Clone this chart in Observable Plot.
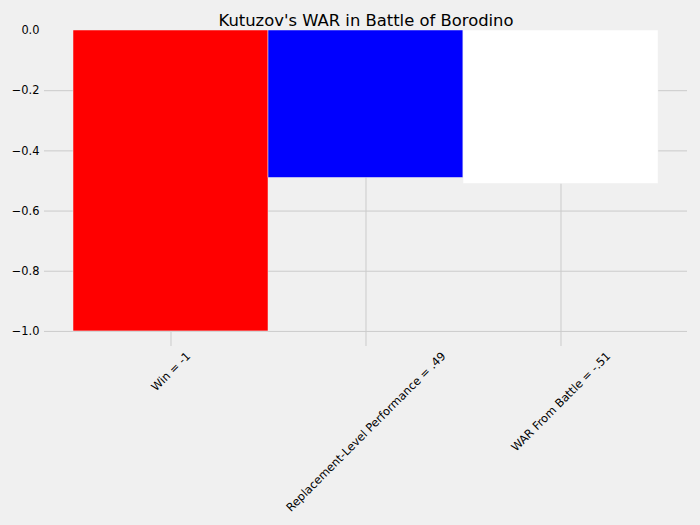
<!DOCTYPE html>
<html>
<head>
<meta charset="utf-8">
<script src="https://cdn.jsdelivr.net/npm/d3@7"></script>
<script src="https://cdn.jsdelivr.net/npm/@observablehq/plot@0.6"></script>
<style>
  html, body { margin: 0; padding: 0; background: #f0f0f0; }
  #chart { width: 700px; height: 525px; }
</style>
</head>
<body>
<div id="chart"></div>
<script>
const title = "Kutuzov's WAR in Battle of Borodino";
const categories = ["Win = -1", "Replacement-Level Performance = .49", "WAR From Battle = -.51"];
const values = [-1, -0.49, -0.51];
const barColors = ["#ff0000", "#0000ff", "#ffffff"];
const yTicks = [0, -0.2, -0.4, -0.6, -0.8, -1.0];

const data = categories.map((c, i) => ({category: c, value: values[i]}));

const labelFont = 11.4;
const ctx = document.createElement("canvas").getContext("2d");
ctx.font = `${labelFont}px 'DejaVu Sans'`;

const xLabelMarks = categories.map(c => {
  const L = ctx.measureText(c).width;
  const h = labelFont * 1.17;
  const half = (L + h) * Math.SQRT1_2 / 2;
  return Plot.text([c], {
    x: d => d, text: d => d,
    frameAnchor: "bottom", rotate: -45,
    textAnchor: "middle", lineAnchor: "middle",
    dy: 3 + half, fontSize: labelFont, fill: "#000"
  });
});

const chart = Plot.plot({
  width: 700,
  height: 525,
  marginTop: 30,
  marginBottom: 179,
  marginLeft: 44,
  marginRight: 13,
  style: {background: "#f0f0f0", fontFamily: "'DejaVu Sans', sans-serif", color: "#000"},
  x: {type: "band", domain: categories, paddingInner: 0, paddingOuter: 0.146, axis: null},
  y: {domain: [-1.05, 0], axis: null},
  color: {domain: categories, range: barColors},
  marks: [
    Plot.gridY(yTicks.filter(t => t !== 0), {stroke: "#cbcbcb", strokeOpacity: 1, strokeWidth: 1}),
    Plot.gridX(categories, {stroke: "#cbcbcb", strokeOpacity: 1, strokeWidth: 1}),
    Plot.barY(data, {x: "category", y: "value", fill: "category", stroke: "#f0f0f0", strokeWidth: 0.5, inset: 0}),
    Plot.axisY(yTicks, {tickSize: 0, tickPadding: 5, tickFormat: d3.format(".1f"), fontSize: labelFont, fill: "#000", label: null}),
    ...xLabelMarks,
    Plot.text([title], {frameAnchor: "top", text: d => d, dy: -5, lineAnchor: "bottom", fontSize: 16.4, fill: "#000"})
  ]
});
document.getElementById("chart").appendChild(chart);
</script>
</body>
</html>
